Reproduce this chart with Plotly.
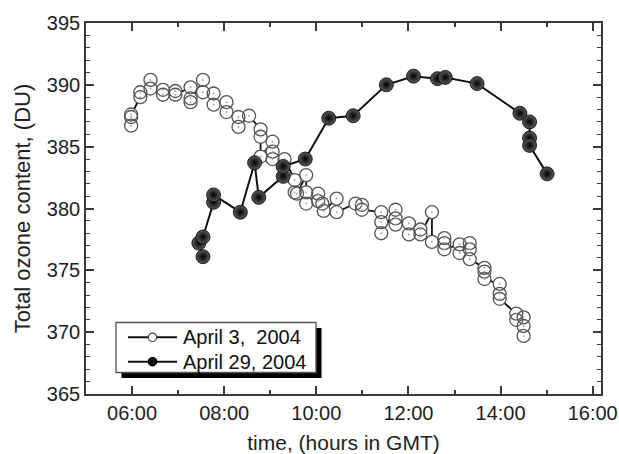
import plotly.graph_objects as go

# ---- data (decimal hours GMT, ozone in DU) ----
apr3_time = [5.98, 5.98, 5.98, 6.18, 6.18, 6.40, 6.40, 6.67, 6.67, 6.94, 6.94,
             7.27, 7.27, 7.27, 7.54, 7.54, 7.77, 7.77, 8.05, 8.05, 8.31, 8.31,
             8.54, 8.79, 8.79, 8.79, 9.05, 9.05, 9.05, 9.31, 9.53, 9.53, 9.58,
             9.78, 9.78, 9.78, 10.04, 10.04, 10.13, 10.16, 10.44, 10.44,
             10.85, 10.99, 10.99, 11.41, 11.41, 11.41, 11.72, 11.72, 11.72,
             12.01, 12.01, 12.26, 12.26, 12.51, 12.51, 12.78, 12.78, 12.78,
             13.11, 13.11, 13.33, 13.33, 13.33, 13.65, 13.65, 13.65,
             13.98, 13.98, 13.98, 14.34, 14.34, 14.50, 14.50, 14.50]
apr3_ozone = [386.7, 387.4, 387.6, 389.0, 389.4, 390.4, 389.7, 389.6, 389.2, 389.5, 389.2,
              389.8, 388.9, 388.6, 390.4, 389.4, 389.3, 388.4, 388.6, 387.8, 387.4, 386.6,
              387.5, 386.4, 385.8, 384.2, 385.4, 384.6, 384.0, 384.0, 382.3, 381.3, 381.2,
              382.7, 381.3, 380.4, 381.2, 380.6, 380.4, 379.8, 380.8, 379.7,
              380.4, 380.3, 379.9, 379.7, 378.9, 378.0, 379.9, 379.2, 378.7,
              378.8, 377.9, 378.3, 377.9, 379.7, 377.3, 377.6, 377.2, 376.7,
              377.1, 376.4, 377.2, 376.7, 375.9, 375.2, 374.9, 374.3,
              373.9, 373.1, 372.7, 371.5, 371.0, 371.2, 370.5, 369.7]

apr29_time = [7.54, 7.45, 7.54, 7.77, 7.77, 8.35, 8.66, 8.75, 9.28, 9.28, 9.76,
              10.27, 10.80, 11.52, 12.11, 12.63, 12.80, 13.49, 14.42, 14.63,
              14.63, 14.63, 15.01]
apr29_ozone = [376.1, 377.2, 377.7, 380.5, 381.1, 379.7, 383.7, 380.9, 382.6, 383.4, 384.0,
               387.3, 387.5, 390.0, 390.7, 390.5, 390.6, 390.1, 387.7, 387.0,
               385.7, 385.1, 382.8]

series_names = ["April 3,  2004", "April 29, 2004"]

x_tickvals = [6, 8, 10, 12, 14, 16]
x_ticktext = ["06:00", "08:00", "10:00", "12:00", "14:00", "16:00"]
x_minorvals = [7, 9, 11, 13, 15]
y_tickvals = [365, 370, 375, 380, 385, 390, 395]

FONT = "Liberation Sans, Arial, sans-serif"
AX = "#3a3a3a"
TXT = "#222"

fig = go.Figure()

# April 3: line, then white fill (hides line inside circles), open outlines, faint centre dots
fig.add_trace(go.Scatter(
    x=apr3_time, y=apr3_ozone, mode="lines", name=series_names[0], showlegend=False,
    line=dict(color="#111", width=1.8),
))
fig.add_trace(go.Scatter(
    x=apr3_time, y=apr3_ozone, mode="markers", showlegend=False, hoverinfo="skip",
    marker=dict(symbol="circle", size=13, color="white", line=dict(width=0)),
))
fig.add_trace(go.Scatter(
    x=apr3_time, y=apr3_ozone, mode="markers", showlegend=False,
    marker=dict(symbol="circle-open", size=13, color="#555",
                line=dict(width=1.3, color="#555")),
))
fig.add_trace(go.Scatter(
    x=apr3_time, y=apr3_ozone, mode="markers", showlegend=False, hoverinfo="skip",
    marker=dict(symbol="circle", size=2, color="#aaa", line=dict(width=0)),
))
# April 29: filled spheres
fig.add_trace(go.Scatter(
    x=apr29_time, y=apr29_ozone, mode="lines+markers", name=series_names[1], showlegend=False,
    line=dict(color="#111", width=2),
    marker=dict(symbol="circle", size=14, color="#5c5c5c",
                gradient=dict(type="radial", color="#000"),
                line=dict(width=0.8, color="#000")),
))

# plot area in pixels: x 86..601, y 23..394
L, R, T, B = 86, 18, 23, 60
W, H = 619, 454
pw, ph = W - L - R, H - T - B


def px_x(p):
    return (p - L) / pw


def px_y(p):
    return (H - B - p) / ph


# ---- hand-drawn legend (box with drop shadow) ----
leg_l, leg_t, leg_r, leg_b = 116, 322.5, 316, 372.5
off = 5.5
shapes = [
    dict(type="rect", xref="paper", yref="paper",
         x0=px_x(leg_l + off), x1=px_x(leg_r + off),
         y0=px_y(leg_b + off), y1=px_y(leg_t + off),
         fillcolor="black", line=dict(width=0), layer="above"),
    dict(type="rect", xref="paper", yref="paper",
         x0=px_x(leg_l), x1=px_x(leg_r), y0=px_y(leg_b), y1=px_y(leg_t),
         fillcolor="white", line=dict(width=1.3, color="#555"), layer="above"),
]
rows_y = [337.3, 361.7]
annotations = []
for i, ry in enumerate(rows_y):
    shapes.append(dict(type="line", xref="paper", yref="paper",
                       x0=px_x(128), x1=px_x(177), y0=px_y(ry), y1=px_y(ry),
                       line=dict(color="#111", width=2), layer="above"))
    r = 4.2
    if i == 0:
        fill, edge = "white", "#444"
    else:
        fill, edge = "#111", "#000"
    shapes.append(dict(type="circle", xref="paper", yref="paper",
                       x0=px_x(152.5 - r), x1=px_x(152.5 + r),
                       y0=px_y(ry + r), y1=px_y(ry - r),
                       fillcolor=fill, line=dict(color=edge, width=1.2), layer="above"))
    annotations.append(dict(xref="paper", yref="paper", x=px_x(181), y=px_y(ry),
                            xanchor="left", yanchor="middle", showarrow=False,
                            text=series_names[i],
                            font=dict(family=FONT, size=20, color="#111")))

fig.update_layout(
    width=W, height=H,
    margin=dict(l=L, r=R, t=T, b=B, autoexpand=False),
    paper_bgcolor="white", plot_bgcolor="white",
    font=dict(family=FONT, size=20, color=TXT),
    showlegend=False,
    shapes=shapes,
    annotations=annotations,
    xaxis=dict(
        range=[5.0, 16.18], tickmode="array", tickvals=x_tickvals, ticktext=x_ticktext,
        ticks="inside", ticklen=8, tickwidth=1.5, tickcolor=AX,
        minor=dict(tickmode="array", tickvals=x_minorvals, ticks="inside", ticklen=4,
                   tickwidth=1.5, tickcolor=AX),
        showline=True, linecolor=AX, linewidth=1.6, mirror="allticks",
        showgrid=False, zeroline=False, automargin=False,
        title=dict(text="time, (hours in GMT)", font=dict(size=21, color=TXT), standoff=16),
        tickfont=dict(size=20, color=TXT),
    ),
    yaxis=dict(
        range=[365, 395], tickmode="array", tickvals=y_tickvals,
        ticks="inside", ticklen=8, tickwidth=1.5, tickcolor=AX,
        minor=dict(dtick=1, tick0=365, ticks="inside", ticklen=4, tickwidth=1.2, tickcolor=AX),
        showline=True, linecolor=AX, linewidth=1.6, mirror="allticks",
        showgrid=False, zeroline=False, automargin=False,
        title=dict(text="Total ozone content, (DU)", font=dict(size=22, color=TXT), standoff=10),
        tickfont=dict(size=20, color=TXT),
    ),
)

fig.write_html("out.html")
